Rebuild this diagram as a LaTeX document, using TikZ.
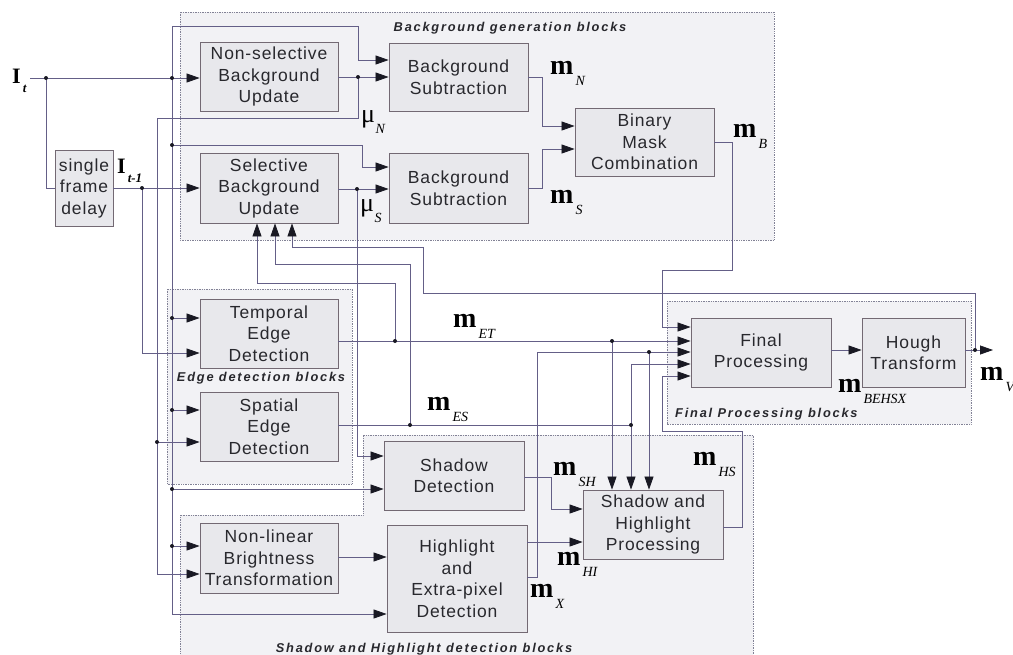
\documentclass[tikz,border=0pt]{standalone}
\usepackage{fontspec}
\setmainfont{Liberation Serif}
\newfontfamily\blkfont[LetterSpace=5]{Liberation Sans}
\newfontfamily\grpfont[LetterSpace=14]{Liberation Sans}
\usetikzlibrary{arrows.meta,calc}

\definecolor{linec}{RGB}{100,95,135}
\definecolor{boxline}{RGB}{115,105,115}
\definecolor{boxfill}{RGB}{232,232,236}
\definecolor{grpfill}{RGB}{242,242,245}
\definecolor{grpline}{RGB}{130,130,150}
\definecolor{tipc}{RGB}{25,25,35}
\definecolor{txtc}{RGB}{40,40,45}

\newcommand\mm[1]{{\fontsize{28}{28}\selectfont\bfseries m}\kern2pt\raisebox{-11pt}{\fontsize{14}{14}\selectfont\itshape #1}}
\newcommand\gmu[1]{{\fontsize{26}{26}\selectfont μ}\kern0.5pt\raisebox{-11pt}{\fontsize{14}{14}\selectfont\itshape #1}}
\newcommand\bigI[1]{{\fontsize{22}{22}\selectfont\bfseries I}\kern2pt\raisebox{-9pt}{\fontsize{13}{13}\selectfont\bfseries\itshape #1}}

\tikzset{
 blk/.style={draw=boxline, fill=boxfill, line width=0.8pt, inner sep=1pt, align=center,
   font=\blkfont\fontsize{17.5}{21.5}\selectfont, text=txtc},
 con/.style={draw=linec, line width=0.75pt},
 arr/.style={con, -{Triangle[length=13pt,width=9pt,color=tipc]}},
 grp/.style={draw=grpline, fill=grpfill, densely dotted, line width=0.7pt},
 glab/.style={font=\grpfont\fontsize{12.8}{14}\selectfont\bfseries\itshape, inner sep=0pt, text=txtc},
 lab/.style={inner sep=0pt, anchor=base west, text=black},
 jdot/.style={fill=tipc, draw=none, circle, inner sep=0pt, minimum size=4pt},
}

\begin{document}
\begin{tikzpicture}[x=1pt,y=-1pt]
\useasboundingbox (0,0) rectangle (1013,654);

% ---------- groups ----------
\draw[grp] (180,12) rectangle (774,240);
\draw[grp] (167,289) rectangle (352,484);
\draw[grp] (667,301) rectangle (971,424);
\draw[grp] (180,662) -- (180,515) -- (363,515) -- (363,435) -- (753,435) -- (753,662);

\node[glab, anchor=base] (gbg) at (510,31) {Background generation blocks};
\node[glab, anchor=base] (ged) at (261,381) {Edge detection blocks};
\node[glab, anchor=base west] (gfp) at (675,417) {Final Processing blocks};
\node[glab, anchor=base] (gsh) at (424,652) {Shadow and Highlight detection blocks};

% ---------- blocks ----------
\node[blk, minimum width=58, minimum height=76] (delay) at (84,188) {single\\frame\\delay};
\node[blk, minimum width=138, minimum height=69] (nsbu) at (269,76.5) {Non-selective\\Background\\Update};
\node[blk, minimum width=138, minimum height=70] (sbu) at (269,188) {Selective\\Background\\Update};
\node[blk, minimum width=139, minimum height=68] (bs1) at (458.5,77) {Background\\Subtraction};
\node[blk, minimum width=139, minimum height=70] (bs2) at (458.5,188) {Background\\Subtraction};
\node[blk, minimum width=139, minimum height=68] (bmc) at (644.5,142) {Binary\\Mask\\Combination};
\node[blk, minimum width=138, minimum height=69] (ted) at (269,333.5) {Temporal\\Edge\\Detection};
\node[blk, minimum width=138, minimum height=69] (sed) at (269,426.5) {Spatial\\Edge\\Detection};
\node[blk, minimum width=140, minimum height=69] (shd) at (454,475.5) {Shadow\\Detection};
\node[blk, minimum width=138, minimum height=70] (nlbt) at (269,558) {Non-linear\\Brightness\\Transformation};
\node[blk, minimum width=140, minimum height=107] (hed) at (457,578.5) {Highlight\\and\\Extra-pixel\\Detection};
\node[blk, minimum width=140, minimum height=69] (shp) at (653,524.5) {Shadow and\\Highlight\\Processing};
\node[blk, minimum width=140, minimum height=69] (fp) at (761,352.5) {Final\\Processing};
\node[blk, minimum width=103, minimum height=69] (ht) at (913.5,352.5) {Hough\\Transform};

% ---------- coordinates ----------
\coordinate (itin) at (30,78);
\coordinate (a1) at (46,78);
\coordinate (a2) at (172,78);
\coordinate (b1) at (142,188);
\coordinate (c1) at (172,145);
\coordinate (c2) at (172,318);
\coordinate (c3) at (172,410);
\coordinate (c4) at (172,489);
\coordinate (c5) at (172,546);
\coordinate (d1) at (358,77);
\coordinate (e1) at (157,442);
\coordinate (f1) at (357,189);
\coordinate (g1) at (395,341);
\coordinate (g2) at (612,341);
\coordinate (h1) at (410,425);
\coordinate (h2) at (631,425);
\coordinate (x1) at (649,352);
\coordinate (k1) at (975,350);
\coordinate (mvout) at (993,350);
\coordinate (s1) at (257,0);
\coordinate (s2) at (275,0);
\coordinate (s3) at (292,0);

% ---------- connectors ----------
\draw[arr] (itin) -- (nsbu.west |- itin);
\draw[con] (a1) |- (delay.west);
\draw[arr] (delay.east) -- (sbu.west |- delay.east);
\draw[arr] (b1) |- (ted.west |- 0,353);

% I_t bus
\draw[arr] (a2) -- (172,26) -| (358,60) -- (bs1.west |- 0,60);
\draw[arr] (a2) -- (172,614) -- (hed.west |- 0,614);
\draw[arr] (c1) -| (362,167) -- (bs2.west |- 0,167);
\draw[arr] (c2) -- (ted.west |- c2);
\draw[arr] (c3) -- (sed.west |- c3);
\draw[arr] (c4) -- (shd.west |- c4);
\draw[arr] (c5) -- (nlbt.west |- c5);

% mu_N
\draw[arr] (nsbu.east |- d1) -- (bs1.west |- d1);
\draw[arr] (d1) -- (358,118) -- (157,118) -- (157,574) -- (nlbt.west |- 0,574);
\draw[arr] (e1) -- (sed.west |- e1);

% mu_S
\draw[arr] (sbu.east |- f1) -- (bs2.west |- f1);
\draw[arr] (f1) -- (357,456) -- (shd.west |- 0,456);

% background subtraction outputs
\draw[arr] (bs1.east |- 0,77) -| (542,126) -- (bmc.west |- 0,126);
\draw[arr] (bs2.east |- 0,188) -| (542,149) -- (bmc.west |- 0,149);

% m_B
\draw[arr] (bmc.east) -| (732,270) -| (662,327) -- (fp.west |- 0,327);

% m_ET
\draw[arr] (ted.east |- g1) -- (fp.west |- g1);
\draw[arr] (g1) -- (395,283) -| (sbu.south -| s1);
\draw[arr] (g2) -- (shp.north -| g2);

% m_ES
\draw[con] (sed.east |- h1) -- (h2);
\draw[arr] (h1) -- (410,264) -| (sbu.south -| s2);
\draw[arr] (h2) -- (631,364) -- (fp.west |- 0,364);
\draw[arr] (h2) -- (shp.north -| h2);

% m_X
\draw[arr] (hed.east |- 0,577) -| (537,352) -- (fp.west |- 0,352);
\draw[arr] (x1) -- (shp.north -| x1);

% m_HI, m_SH
\draw[arr] (hed.east |- 0,542) -- (shp.west |- 0,542);
\draw[arr] (shd.east |- 0,477) -| (551,509) -- (shp.west |- 0,509);

% NLBT -> HED
\draw[arr] (nlbt.east |- 0,557) -- (hed.west |- 0,557);

% m_HS
\draw[arr] (shp.east |- 0,527) -| (742,431) -| (662,376) -- (fp.west |- 0,376);

% final
\draw[arr] (fp.east |- 0,350) -- (ht.west |- 0,350);
\draw[arr] (ht.east |- k1) -- (mvout);
\draw[arr] (k1) -- (975,293) -- (423,293) -- (423,247) -| (sbu.south -| s3);

% dots
\foreach \p in {a1,a2,b1,c1,c2,c3,c4,c5,d1,e1,f1,g1,g2,h1,h2,x1,k1}
  \node[jdot] at (\p) {};

% ---------- labels ----------
\node[lab] (lIt) at (12,83) {\bigI{t}};
\node[lab] (lIt1) at (117,173) {\bigI{t-1}};
\node[lab] (lmuN) at (361,122) {\gmu{N}};
\node[lab] (lmuS) at (360,211) {\gmu{S}};
\node[lab] (lmN) at (550,74) {\mm{N}};
\node[lab] (lmS) at (550,203) {\mm{S}};
\node[lab] (lmB) at (733,137) {\mm{B}};
\node[lab] (lmET) at (453,327) {\mm{ET}};
\node[lab] (lmES) at (427,410) {\mm{ES}};
\node[lab] (lmSH) at (553,475) {\mm{SH}};
\node[lab] (lmHI) at (557,565) {\mm{HI}};
\node[lab] (lmX) at (530,597) {\mm{X}};
\node[lab] (lmHS) at (693,465) {\mm{HS}};
\node[lab] (lmBE) at (838,392) {\mm{BEHSX}};
\node[lab] (lmV) at (980,380) {\mm{V}};
\end{tikzpicture}
\end{document}
